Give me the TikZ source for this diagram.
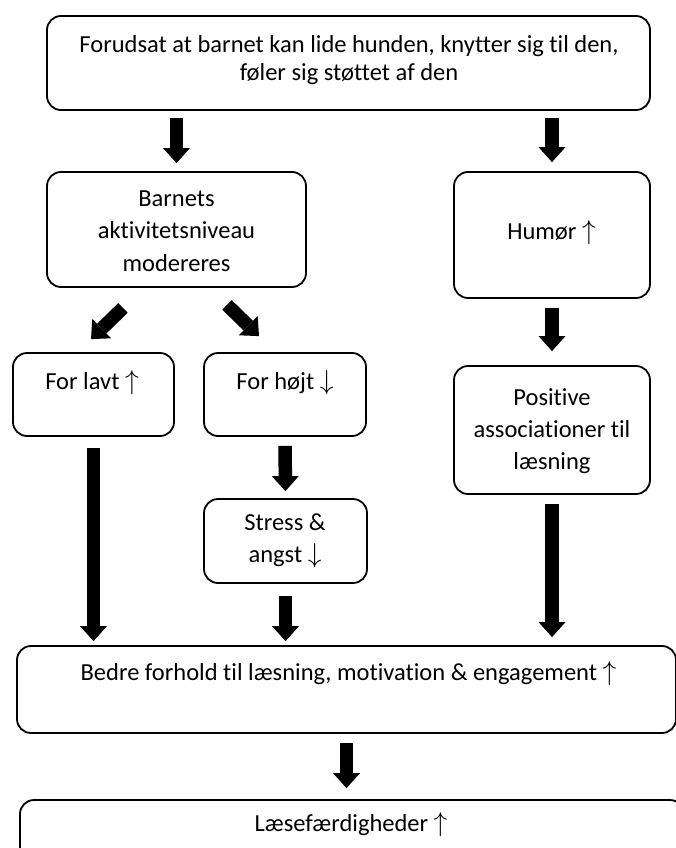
\documentclass[tikz,border=0pt]{standalone}
\usepackage{fontspec}
\setmainfont{Carlito}[Ligatures=NoCommon]
\usetikzlibrary{arrows.meta,calc}
\newcommand\mylines[2]{\vtop{\baselineskip=#1\lineskiplimit=-100pt\halign{\hfil##\hfil\cr#2\crcr}}}
\newcommand\upar{ \scalebox{1.1}{$\uparrow$}}
\newcommand\dnar{ \scalebox{1.1}{$\downarrow$}}
\tikzset{
  box/.style={draw, line width=1.8pt, rounded corners=14pt, inner sep=0pt},
  txt/.style={inner sep=0pt, anchor=base, font=\fontsize{24.5}{32.7}\selectfont},
  barrow/.style={line width=13.5pt, -{Triangle[width=27pt,length=15pt,line width=0pt]}}
}
\begin{document}
\begin{tikzpicture}[x=1pt,y=-1pt]
\useasboundingbox (0,0) rectangle (675,848);
% boxes
\node[box, minimum width=603pt, minimum height=94pt] (top) at (348.5,63) {};
\node[box, minimum width=259pt, minimum height=115pt] (barnets) at (176.5,229.5) {};
\node[box, minimum width=196pt, minimum height=126pt] (humor) at (552,235) {};
\node[box, minimum width=161pt, minimum height=83pt] (lavt) at (93.5,394.5) {};
\node[box, minimum width=162pt, minimum height=83pt] (hojt) at (285,394.5) {};
\node[box, minimum width=163pt, minimum height=84pt] (stress) at (285.5,541) {};
\node[box, minimum width=196pt, minimum height=128pt] (positive) at (552,430) {};
\node[box, minimum width=659pt, minimum height=87pt] (bedre) at (346.5,689.5) {};
\node[box, minimum width=664pt, minimum height=76pt] (laese) at (352,838) {};
% texts
\node[txt] (toptext) at (349,52.5) {\mylines{28pt}{Forudsat at barnet kan lide hunden, knytter sig til den,\cr føler sig støttet af den}};
\node[txt] (barnetstext) at (176.5,206) {\mylines{32.7pt}{Barnets\cr aktivitetsniveau\cr modereres}};
\node[txt] (humortext) at (551.5,239) {Humør\upar};
\node[txt] (lavttext) at (92,389) {For lavt\upar};
\node[txt] (hojttext) at (285,389) {For højt\dnar};
\node[txt] (stresstext) at (285,530) {\mylines{32pt}{Stress \&\cr angst\dnar}};
\node[txt] (positivetext) at (552,405) {\mylines{32pt}{Positive\cr associationer til\cr læsning}};
\node[txt] (bedretext) at (348.5,680) {Bedre forhold til læsning, motivation \& engagement\upar};
\node[txt] (laesetext) at (351,831) {Læsefærdigheder\upar};
% arrows
\draw[barrow, shorten <=7pt, shorten >=8pt] (top.south -| barnets.north) -- (barnets.north);
\draw[barrow, shorten <=7pt, shorten >=9pt] (top.south -| humor.north) -- (humor.north);
\draw[barrow, shorten <=9pt, shorten >=14pt] (humor.south) -- (positive.north);
\draw[barrow] ($(barnets.south)+(-53.5,20)$) -- ($(lavt.north)+(-2.5,-13)$);
\draw[barrow] ($(barnets.south)+(50.5,17)$) -- ($(hojt.north)+(-26,-16)$);
\draw[barrow, shorten <=11pt, shorten >=4pt] (lavt.south) -- (lavt.south |- bedre.north);
\draw[barrow, shorten <=9pt, shorten >=7pt] (hojt.south) -- (stress.north);
\draw[barrow, shorten <=12pt, shorten >=4pt] (stress.south) -- (stress.south |- bedre.north);
\draw[barrow, shorten <=9pt, shorten >=8pt] (positive.south) -- (positive.south |- bedre.north);
\draw[barrow, shorten <=9pt, shorten >=11pt, xshift=3.5pt] (bedre.south) -- (bedre.south |- laese.north);
\end{tikzpicture}
\end{document}
